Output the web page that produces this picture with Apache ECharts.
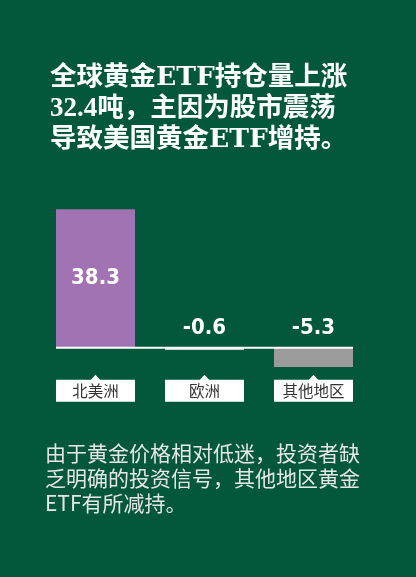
<!DOCTYPE html>
<html>
<head>
<meta charset="utf-8">
<script src="https://cdn.jsdelivr.net/npm/echarts@6/dist/echarts.min.js"></script>
<style>
html,body{margin:0;padding:0;background:#03573b;}
#c{width:416px;height:577px;}
</style>
</head>
<body>
<div id="c"></div>
<script>
// Data
var categories = ['北美洲', '欧洲', '其他地区'];
var values = [38.3, -0.6, -5.3];
var valueLabels = ['38.3', '-0.6', '-5.3'];
var barColors = ['#a273b3', '#cfcfcf', '#9b9b9b'];
var titleText = '全球黄金ETF持仓量上涨\n{n|32.4}吨，主因为股市震荡\n导致美国黄金ETF增持。';
var noteText = '由于黄金价格相对低迷，投资者缺\n乏明确的投资信号，其他地区黄金\nETF有所减持。';

var chart = echarts.init(document.getElementById('c'), null, {renderer: 'canvas'});

var barData = values.map(function (v, i) {
  return {
    value: v,
    itemStyle: {color: barColors[i]},
    label: v >= 0
      ? {position: 'inside'}
      : {position: 'top', distance: 9}
  };
});

var BAR_RATIO = 0.725;

var option = {
  backgroundColor: '#03573b',
  animation: false,
  title: [
    {
      text: titleText,
      left: 45,
      top: 58,
      textStyle: {
        color: '#ffffff',
        fontSize: 26.5,
        fontWeight: 'bold',
        lineHeight: 31,
        fontFamily: '"DejaVu Serif", "Noto Sans CJK SC", sans-serif',
        rich: {
          n: {
            color: '#ffffff',
            fontSize: 27,
            fontWeight: 'bold',
            lineHeight: 31,
            fontFamily: '"Liberation Serif", serif'
          }
        }
      }
    },
    {
      text: noteText,
      left: 40,
      top: 436,
      textStyle: {
        color: '#e6e6e6',
        fontSize: 21,
        fontWeight: 'normal',
        lineHeight: 25,
        fontFamily: '"Noto Sans CJK SC", sans-serif'
      }
    }
  ],
  grid: {left: 41, right: 48, top: 203, bottom: 193},
  xAxis: {
    type: 'category',
    data: categories,
    axisLine: {show: false},
    axisTick: {show: false},
    axisLabel: {show: false},
    splitLine: {show: false}
  },
  yAxis: {
    type: 'value',
    min: -10,
    max: 40,
    show: false,
    splitLine: {show: false}
  },
  series: [
    {
      type: 'bar',
      data: barData,
      barWidth: (BAR_RATIO * 100) + '%',
      label: {
        show: true,
        color: '#ffffff',
        fontSize: 22,
        fontWeight: 'bold',
        fontFamily: '"Liberation Sans Narrow", "DejaVu Sans Condensed", sans-serif',
        formatter: function (p) { return valueLabels[p.dataIndex]; }
      }
    },
    {
      type: 'custom',
      data: categories.map(function (c, i) { return [i, 0]; }),
      z: 5,
      renderItem: function (params, api) {
        var i = api.value(0);
        var pt = api.coord([i, 0]);
        var band = api.size([1, 0])[0];
        var w = band * BAR_RATIO;
        var n = categories.length;
        var x1 = i === 0 ? pt[0] - w / 2 : pt[0] - band / 2;
        var x2 = i === n - 1 ? pt[0] + w / 2 : pt[0] + band / 2;
        var boxTop = pt[1] + 32;
        return {
          type: 'group',
          children: [
            {
              type: 'line',
              shape: {x1: x1, y1: pt[1], x2: x2, y2: pt[1]},
              style: {stroke: '#ffffff', lineWidth: 2}
            },
            {
              type: 'rect',
              shape: {x: pt[0] - w / 2, y: boxTop, width: w, height: 22},
              style: {fill: '#ffffff'}
            },
            {
              type: 'polygon',
              shape: {points: [[pt[0] - 5, boxTop + 0.5], [pt[0], boxTop - 5], [pt[0] + 5, boxTop + 0.5]]},
              style: {fill: '#ffffff'}
            },
            {
              type: 'text',
              x: pt[0],
              y: boxTop + 11,
              style: {
                text: categories[i],
                fill: '#333333',
                fontSize: 15.5,
                fontFamily: '"Noto Sans CJK SC", sans-serif',
                align: 'center',
                verticalAlign: 'middle'
              }
            }
          ]
        };
      }
    }
  ]
};
chart.setOption(option);
</script>
</body>
</html>
